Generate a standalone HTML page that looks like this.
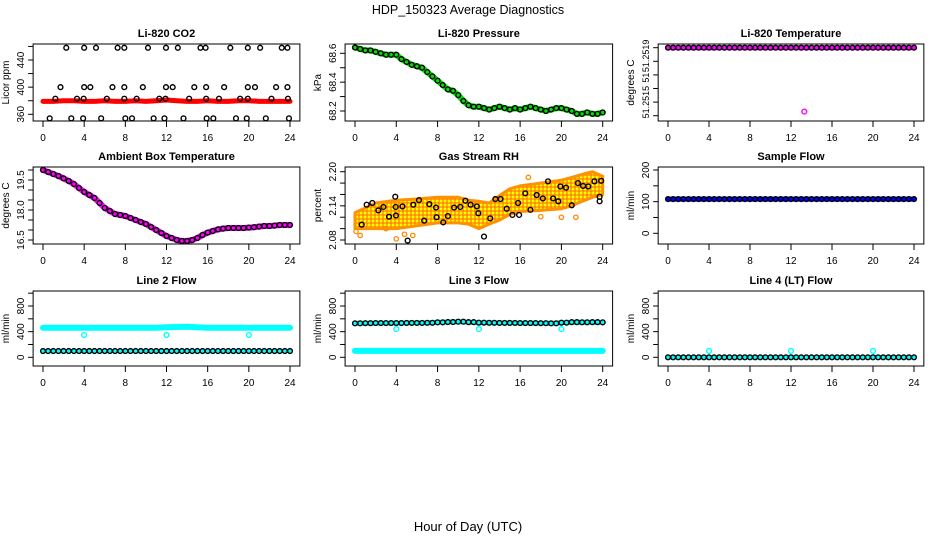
<!DOCTYPE html>
<html><head><meta charset="utf-8">
<style>
html,body{margin:0;padding:0;background:#fff;}
svg{display:block;font-family:"Liberation Sans",sans-serif;}
</style></head>
<body>
<svg id="chart" width="936" height="540" viewBox="0 0 936 540" xmlns="http://www.w3.org/2000/svg">
<defs>
<pattern id="rhpat" width="4" height="4" patternUnits="userSpaceOnUse">
<rect width="4" height="4" fill="#ffb000"/>
<rect x="0" y="0" width="2" height="2" fill="#ffff00"/>
<rect x="2" y="2" width="2" height="2" fill="#ff8c00"/>
</pattern>
</defs>
<text x="468" y="14" text-anchor="middle" font-size="12.5">HDP_150323  Average Diagnostics</text>
<text x="468" y="531" text-anchor="middle" font-size="13">Hour of Day (UTC)</text>
</svg>
<script>
// ---- data ----
const hours49 = [0,0.5,1,1.5,2,2.5,3,3.5,4,4.5,5,5.5,6,6.5,7,7.5,8,8.5,9,9.5,10,10.5,11,11.5,12,12.5,13,13.5,14,14.5,15,15.5,16,16.5,17,17.5,18,18.5,19,19.5,20,20.5,21,21.5,22,22.5,23,23.5,24];
const hours25 = [0,1,2,3,4,5,6,7,8,9,10,11,12,13,14,15,16,17,18,19,20,21,22,23,24];
const xTicks = [0,4,8,12,16,20,24];

const co2Red = [379,379,380,380,379,379,380,379,379,380,379,380,381,380,379,379,380,379,379,380,380,379,379,379,379];
const co2TopX = [2.26,4.0,5.15,7.25,7.9,10.2,11.95,13.1,15.3,15.8,18.2,19.9,21.1,23.2,23.75];
const co2UpX = [1.7,4.0,4.6,6.75,7.9,9.7,11.95,12.6,14.7,15.85,17.6,19.9,20.6,22.65,23.75];
const co2MidX = [1.2,3.3,3.95,6.2,7.9,9.1,11.3,11.9,14.2,15.85,17.1,19.15,19.9,22.2,23.8];
const co2LowX = [0.65,2.75,3.9,5.65,8.0,8.65,10.75,11.8,13.65,15.9,16.55,18.75,19.8,21.65,23.9];
const co2Levels = [458,400,383,354];

const pressure = [68.64,68.63,68.62,68.62,68.61,68.60,68.59,68.59,68.59,68.56,68.54,68.52,68.51,68.50,68.47,68.44,68.41,68.38,68.35,68.34,68.31,68.27,68.24,68.23,68.23,68.22,68.21,68.22,68.23,68.22,68.21,68.22,68.21,68.22,68.23,68.22,68.21,68.20,68.21,68.22,68.22,68.21,68.20,68.18,68.18,68.19,68.18,68.18,68.19];

const liTemp = [51.2519,51.2519,51.2519,51.2519,51.2519,51.2519,51.2519,51.2519,51.2519,51.2519,51.2519,51.2519,51.2519,51.2519,51.2519,51.2519,51.2519,51.2519,51.2519,51.2519,51.2519,51.2519,51.2519,51.2519,51.2519];
const liTempOutX = [13.3];
const liTempOutY = [51.25143];

const ambient = [20.0,19.9,19.8,19.7,19.58,19.45,19.3,19.1,18.9,18.75,18.6,18.35,18.1,17.95,17.8,17.75,17.7,17.6,17.5,17.4,17.3,17.15,17.0,16.85,16.7,16.6,16.5,16.45,16.45,16.5,16.6,16.75,16.87,16.95,17.03,17.07,17.1,17.1,17.1,17.1,17.12,17.14,17.17,17.2,17.2,17.22,17.25,17.25,17.25];

const rhBandX = [0,2,4,6,8,10,11,12,13,14,15,16,18,20,21,22,23,24];
const rhBandLow = [2.100,2.100,2.100,2.105,2.110,2.110,2.108,2.100,2.108,2.115,2.125,2.130,2.132,2.135,2.140,2.148,2.155,2.160];
const rhBandHigh = [2.128,2.145,2.150,2.152,2.155,2.155,2.150,2.148,2.145,2.158,2.170,2.175,2.180,2.185,2.190,2.195,2.200,2.192];
const rhOrangeX = [0.1,0.5,4.0,4.8,5.6,18.0,20.0,21.4,16.8,3.0];
const rhOrangeY = [2.095,2.088,2.082,2.090,2.088,2.121,2.120,2.120,2.190,2.100];
const rhBlackX = [0.65,1.13,1.68,2.26,2.75,3.3,3.9,3.94,3.97,4.6,5.1,5.65,6.2,6.7,7.2,7.85,7.9,8.55,9.0,9.6,10.2,10.7,11.2,11.8,11.95,12.5,13.1,13.6,14.1,14.7,15.25,15.8,15.9,16.5,17.0,17.6,18.2,18.7,19.2,19.7,19.9,20.45,21.0,21.6,22.1,22.6,23.2,23.85,23.7,23.7];
const rhBlackY = [2.107,2.142,2.145,2.132,2.138,2.121,2.156,2.138,2.123,2.139,2.079,2.142,2.150,2.114,2.143,2.137,2.120,2.111,2.122,2.137,2.138,2.149,2.142,2.139,2.127,2.086,2.118,2.152,2.152,2.135,2.124,2.145,2.124,2.162,2.133,2.159,2.153,2.183,2.153,2.148,2.174,2.172,2.141,2.180,2.175,2.174,2.183,2.184,2.156,2.148];

const sampleFlow = [108,108,108,108,108,108,108,108,108,108,108,108,108,108,108,108,108,108,108,108,108,108,108,108,108];

const line2Cyan = [460,460,460,460,460,460,460,460,460,460,460,460,470,472,475,470,460,460,460,460,460,460,460,460,460];
const line2Black = [98,98,98,98,98,98,98,98,98,98,98,98,98,98,98,98,98,98,98,98,98,98,98,98,98];
const line2OutX = [4,12,20];
const line2OutY = [347,347,347];

const line3Black = [530,532,534,534,534,536,536,538,545,550,555,548,540,538,536,536,534,534,532,530,540,548,546,548,545];
const line3Cyan = [100,100,100,100,100,100,100,100,100,100,100,100,100,100,100,100,100,100,100,100,100,100,100,100,100];
const line3OutX = [4,12,20];
const line3OutY = [440,440,440];

const line4Black = [0,0,0,0,0,0,0,0,0,0,0,0,0,0,0,0,0,0,0,0,0,0,0,0,0];
const line4OutX = [4,12,20];
const line4OutY = [100,100,100];

// ---- drawing ----
const svg = document.getElementById('chart');
const NS = 'http://www.w3.org/2000/svg';
function mk(tag, attrs, parent){
  const e = document.createElementNS(NS, tag);
  for (const k in attrs) e.setAttribute(k, attrs[k]);
  (parent||svg).appendChild(e);
  return e;
}
const cols = [{x0:43,x24:290},{x0:355,x24:602.7},{x0:668,x24:914}];
const rows = [{top:44,bot:121},{top:167,bot:244},{top:291,bot:366}];

function makePanel(c, r, name, title, ylab, v1, p1, v2, p2, ticks, labels, lfs){
  const col = cols[c], row = rows[r];
  const k = (col.x24 - col.x0)/24;
  const X = h => col.x0 + h*k;
  const Y = v => p1 + (v - v1)*(p2 - p1)/(v2 - v1);
  const g = mk('g', {});
  
  
  const L = X(-0.96), R = X(24.96);
  const t = mk('text', {x:(L+R)/2, y:row.top-7, 'text-anchor':'middle', 'font-size':'11', 'font-weight':'bold'}, g);
  t.textContent = title;
  
  
  const yt = mk('text', {transform:`translate(${L-24},${(row.top+row.bot)/2}) rotate(-90)`, 'text-anchor':'middle', 'font-size':'10'}, g);
  yt.textContent = ylab;
  
  
  ticks.forEach(v => {
    const tk = mk('line', {x1:L-5, x2:L, y1:Y(v), y2:Y(v), stroke:'#000', 'stroke-width':1}, g);
    
    
  });
  labels.forEach(lb => {
    const tx = mk('text', {transform:`translate(${L-9},${Y(lb[0])}) rotate(-90)`, 'text-anchor':'middle', 'font-size':lfs||'10'}, g);
    tx.textContent = lb[1];
    
    
  });
  xTicks.forEach(h => {
    const tk = mk('line', {x1:X(h), x2:X(h), y1:row.bot, y2:row.bot+6, stroke:'#000', 'stroke-width':1}, g);
    
    
    const tx = mk('text', {x:X(h), y:row.bot+20, 'text-anchor':'middle', 'font-size':'10'}, g);
    tx.textContent = String(h);
    
    
  });
  const clip = mk('g', {}, g);
  
  
  const box = mk('rect', {x:L, y:row.top, width:R-L, height:row.bot-row.top, fill:'none', stroke:'#000', 'stroke-width':1}, g);
  
  
  return {X, Y, g:clip};
}
function line(p, xs, ys, color, w, nm){
  const pts = xs.map((x,i)=>p.X(x).toFixed(1)+','+p.Y(ys[i]).toFixed(1)).join(' ');
  const e = mk('polyline', {points:pts, fill:'none', stroke:color, 'stroke-width':w, 'stroke-linejoin':'round', 'stroke-linecap':'round'}, p.g);
  
  
}
function pts(p, xs, ys, color, nm, rr, sw){
  xs.forEach((x,i)=>{
    const e = mk('circle', {cx:p.X(x), cy:p.Y(ys[i]), r:rr||2.4, fill:'none', stroke:color, 'stroke-width':sw||1.4}, p.g);
    
    
  });
}

// Panel 1: CO2
let p = makePanel(0,0,'co2','Li-820 CO2','Licor ppm',360,114.3,440,60,[360,380,400,420,440,460],[[360,'360'],[400,'400'],[440,'440']]);
line(p, hours25, co2Red, '#ff0000', 5, 'co2-red-series');
pts(p, co2TopX, co2TopX.map(()=>co2Levels[0]), '#000', 'co2-point');
pts(p, co2UpX, co2UpX.map(()=>co2Levels[1]), '#000', 'co2-point');
pts(p, co2MidX, co2MidX.map(()=>co2Levels[2]), '#000', 'co2-point');
pts(p, co2LowX, co2LowX.map(()=>co2Levels[3]), '#000', 'co2-point');

// Panel 2: Pressure
p = makePanel(1,0,'pressure','Li-820 Pressure','kPa',68.6,53.3,68.2,111,[68.2,68.3,68.4,68.5,68.6],[[68.2,'68.2'],[68.4,'68.4'],[68.6,'68.6']]);
line(p, hours49, pressure, '#00e000', 6, 'pressure-green-series');
pts(p, hours49, pressure, '#000', 'pressure-point');

// Panel 3: Li-820 Temperature
p = makePanel(2,0,'li-temp','Li-820 Temperature','degrees C',51.2519,47.7,51.2514,115.7,[51.2514,51.2515,51.2516,51.2517,51.2518,51.2519],[[51.25184,'51.2519'],[51.25168,'51'],[51.25150,'51.2515']],'9');
line(p, hours25, liTemp, '#ff00ff', 5, 'li-temp-magenta-series');
pts(p, hours49, hours49.map((h,i)=>liTemp[Math.floor(i/2)]), '#000', 'li-temp-point');
pts(p, liTempOutX, liTempOutY, '#ff00ff', 'li-temp-outlier');

// Panel 4: Ambient
p = makePanel(0,1,'ambient','Ambient Box Temperature','degrees C',16.5,240,19.5,180,[16.5,17.0,17.5,18.0,18.5,19.0,19.5,20.0],[[16.5,'16.5'],[18.0,'18.0'],[19.5,'19.5']]);
line(p, hours49, ambient, '#ff00ff', 6, 'ambient-magenta-series');
pts(p, hours49, ambient, '#000', 'ambient-point');

// Panel 5: Gas RH
p = makePanel(1,1,'gas-rh','Gas Stream RH','percent',2.20,171.7,2.08,240,[2.08,2.10,2.12,2.14,2.16,2.18,2.20],[[2.08,'2.08'],[2.14,'2.14'],[2.20,'2.20']]);
{
  const top = rhBandX.map((x,i)=>p.X(x).toFixed(1)+','+p.Y(rhBandHigh[i]).toFixed(1));
  const bot = rhBandX.map((x,i)=>p.X(x).toFixed(1)+','+p.Y(rhBandLow[i]).toFixed(1)).reverse();
  const band = mk('polygon', {points:top.concat(bot).join(' '), fill:'url(#rhpat)', stroke:'#ff9000', 'stroke-width':3, 'stroke-linejoin':'round'}, p.g);
  
  
}
pts(p, rhOrangeX, rhOrangeY, '#ff8c00', 'gas-rh-orange-point', 2.2, 1.3);
pts(p, rhBlackX, rhBlackY, '#000', 'gas-rh-point');

// Panel 6: Sample Flow
p = makePanel(2,1,'sample-flow','Sample Flow','ml/min',0,233.3,200,170,[0,50,100,150,200],[[0,'0'],[100,'100'],[200,'200']]);
line(p, hours25, sampleFlow, '#0000ff', 5, 'sample-flow-blue-series');
pts(p, hours49, hours49.map((h,i)=>sampleFlow[Math.floor(i/2)]), '#000', 'sample-flow-point');

// Row 3 panels
const flowTicks = [0,200,400,600,800,1000];
const flowLabels = [[0,'0'],[400,'400'],[800,'800']];
p = makePanel(0,2,'line2','Line 2 Flow','ml/min',0,357.3,800,306,flowTicks,flowLabels);
line(p, hours25, line2Cyan, '#00ffff', 6, 'line2-cyan-series');
line(p, hours25, line2Black, '#00ffff', 4, 'line2-base-series');
pts(p, hours49, hours49.map((h,i)=>line2Black[Math.floor(i/2)]), '#000', 'line2-black-point');
pts(p, line2OutX, line2OutY, '#00ffff', 'line2-outlier');

p = makePanel(1,2,'line3','Line 3 Flow','ml/min',0,357.3,800,306,flowTicks,flowLabels);
line(p, hours25, line3Cyan, '#00ffff', 6, 'line3-cyan-series');
line(p, hours25, line3Black, '#00ffff', 5, 'line3-upper-series');
pts(p, hours49, hours49.map((h,i)=>line3Black[Math.floor(i/2)]), '#000', 'line3-black-point');
pts(p, line3OutX, line3OutY, '#00ffff', 'line3-outlier');

p = makePanel(2,2,'line4','Line 4 (LT) Flow','ml/min',0,357.3,800,306,flowTicks,flowLabels);
line(p, hours25, line4Black, '#00ffff', 4, 'line4-cyan-series');
pts(p, hours49, hours49.map((h,i)=>line4Black[Math.floor(i/2)]), '#000', 'line4-black-point');
pts(p, line4OutX, line4OutY, '#00ffff', 'line4-outlier');
</script>
</body></html>
